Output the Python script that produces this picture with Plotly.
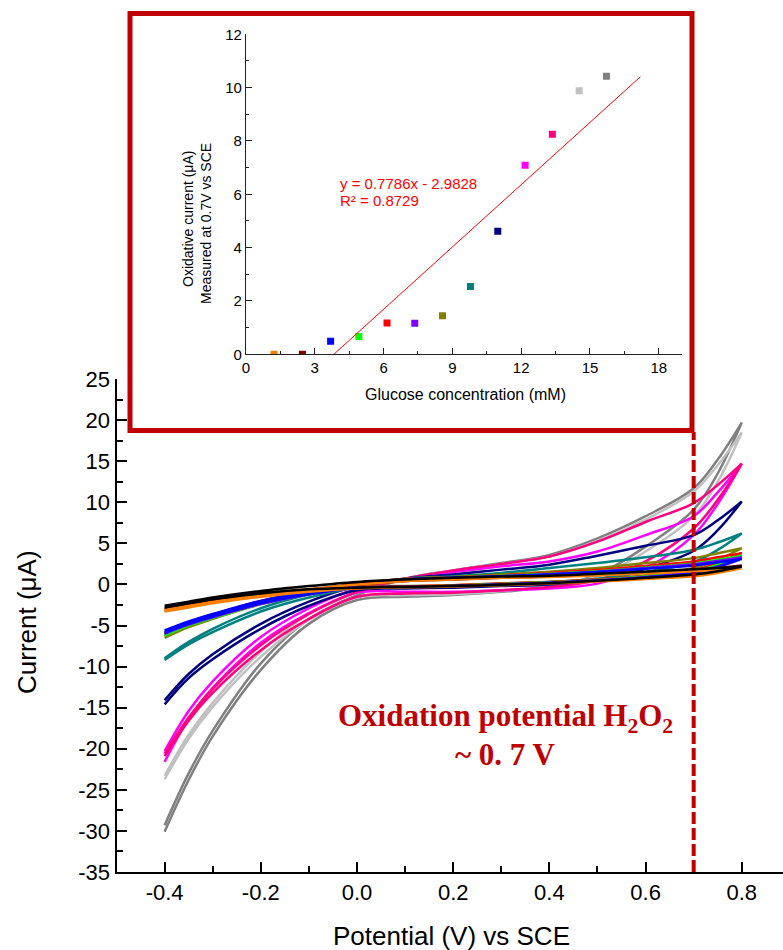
import plotly.graph_objects as go

# ---------------- Cyclic voltammograms (current in uA vs potential in V vs SCE) ----------------
potential = [-0.4, -0.35, -0.3, -0.2, -0.1, 0.0, 0.1, 0.2, 0.3, 0.4, 0.5, 0.6, 0.7, 0.75, 0.8]

# forward (anodic) sweep and reverse (cathodic) sweep, both listed from -0.4 V to 0.8 V
blank_fwd = [-2.6, -2.1, -1.6, -0.8, -0.2, 0.3, 0.6, 0.8, 0.95, 1.05, 1.3, 1.55, 1.85, 2.0, 2.17]
blank_rev = [-2.8, -2.3, -1.8, -1.1, -0.6, -0.4, -0.3, -0.2, -0.05, 0.15, 0.45, 0.8, 1.2, 1.6, 2.17]
orange_fwd = [-3.1, -2.6, -2.1, -1.3, -0.6, 0.0, 0.4, 0.6, 0.8, 0.9, 1.1, 1.35, 1.6, 1.8, 2.0]
orange_rev = [-3.3, -2.8, -2.3, -1.5, -0.9, -0.5, -0.35, -0.25, -0.1, 0.1, 0.35, 0.65, 1.0, 1.4, 2.0]
maroon_fwd = [-3.0, -2.5, -2.0, -1.2, -0.6, 0.0, 0.4, 0.6, 0.8, 0.95, 1.15, 1.45, 1.75, 2.0, 2.3]
maroon_rev = [-3.2, -2.7, -2.2, -1.4, -0.8, -0.45, -0.3, -0.2, -0.05, 0.15, 0.4, 0.75, 1.15, 1.6, 2.3]
blue_fwd = [-5.6, -4.5, -3.6, -2.0, -0.9, 0.0, 0.6, 0.8, 1.0, 1.2, 1.5, 1.9, 2.3, 2.7, 3.1]
blue_rev = [-5.9, -4.8, -3.9, -2.3, -1.2, -0.4, -0.3, -0.2, 0.0, 0.2, 0.45, 0.85, 1.4, 2.1, 3.1]
green_fwd = [-6.0, -4.8, -3.8, -2.1, -0.9, 0.0, 0.6, 0.8, 1.05, 1.3, 1.6, 2.05, 2.55, 3.0, 3.5]
green_rev = [-6.2, -5.0, -4.1, -2.4, -1.2, -0.4, -0.3, -0.15, 0.05, 0.25, 0.55, 1.0, 1.6, 2.4, 3.5]
red_fwd = [-5.9, -4.7, -3.7, -2.0, -0.8, 0.05, 0.65, 0.85, 1.1, 1.4, 1.75, 2.25, 2.8, 3.3, 3.8]
red_rev = [-6.1, -4.9, -4.0, -2.3, -1.1, -0.35, -0.25, -0.1, 0.1, 0.3, 0.6, 1.05, 1.7, 2.6, 3.8]
violet_fwd = [-5.8, -4.6, -3.7, -2.1, -0.9, 0.0, 0.6, 0.8, 1.0, 1.25, 1.55, 2.0, 2.45, 2.85, 3.3]
violet_rev = [-6.0, -4.9, -4.0, -2.4, -1.2, -0.4, -0.3, -0.2, 0.0, 0.2, 0.5, 0.9, 1.5, 2.2, 3.3]
olive_fwd = [-6.3, -5.0, -3.9, -2.1, -0.9, 0.1, 0.7, 0.9, 1.2, 1.55, 2.0, 2.6, 3.2, 3.8, 4.4]
olive_rev = [-6.5, -5.2, -4.2, -2.4, -1.2, -0.3, -0.2, -0.1, 0.1, 0.3, 0.6, 1.1, 2.0, 3.0, 4.4]
teal_fwd = [-9.0, -7.0, -5.4, -2.9, -1.2, 0.0, 0.7, 1.0, 1.4, 2.0, 2.6, 3.3, 4.2, 5.1, 6.2]
teal_rev = [-9.2, -7.3, -5.8, -3.3, -1.6, -0.4, -0.3, -0.15, 0.05, 0.3, 0.7, 1.5, 2.7, 4.2, 6.2]
navy_fwd = [-14.1, -10.9, -8.5, -4.8, -2.1, -0.2, 0.7, 1.2, 1.8, 2.4, 3.5, 4.7, 6.0, 7.8, 10.1]
navy_rev = [-14.6, -11.4, -9.1, -5.4, -2.6, -0.7, -0.5, -0.4, -0.2, 0.0, 0.6, 1.9, 4.1, 6.6, 10.1]
magenta_fwd = [-20.3, -15.4, -11.8, -6.4, -2.9, -0.5, 0.7, 1.5, 2.2, 2.8, 4.0, 6.0, 8.3, 11.2, 14.7]
magenta_rev = [-21.6, -16.4, -12.6, -7.1, -3.5, -1.0, -0.9, -0.9, -0.7, -0.5, 0.1, 2.0, 6.0, 9.8, 14.7]
pink_fwd = [-20.6, -16.2, -12.7, -7.4, -3.6, -0.9, 0.7, 1.7, 2.5, 3.4, 5.2, 7.6, 9.9, 12.1, 14.7]
pink_rev = [-20.9, -16.6, -13.2, -8.0, -4.2, -1.5, -1.1, -1.0, -0.7, -0.3, 0.5, 2.8, 6.8, 10.3, 14.7]
silver_fwd = [-23.3, -18.3, -14.4, -8.2, -3.6, -1.0, 0.7, 1.7, 2.5, 3.4, 5.3, 7.9, 11.3, 14.5, 18.5]
silver_rev = [-23.7, -18.8, -14.9, -8.8, -4.3, -1.6, -1.3, -1.2, -0.8, -0.2, 1.0, 4.0, 8.3, 12.5, 18.5]
gray_fwd = [-29.3, -23.0, -17.8, -9.6, -4.2, -1.3, 0.7, 1.7, 2.6, 3.6, 5.6, 8.3, 11.7, 15.2, 19.7]
gray_rev = [-30.1, -23.8, -18.5, -10.4, -4.8, -1.9, -1.5, -1.3, -0.9, -0.3, 1.2, 4.6, 9.1, 13.5, 19.7]

# main axis tick positions and their labels (plain hyphen minus signs)
potential_ticks = [-0.4, -0.2, 0.0, 0.2, 0.4, 0.6, 0.8]
potential_labels = ["-0.4", "-0.2", "0.0", "0.2", "0.4", "0.6", "0.8"]
current_ticks = [-35, -30, -25, -20, -15, -10, -5, 0, 5, 10, 15, 20, 25]
current_labels = ["-35", "-30", "-25", "-20", "-15", "-10", "-5", "0", "5", "10", "15", "20", "25"]

# ---------------- Calibration inset ----------------
glucose_mM = [1.22, 2.46, 3.69, 4.92, 6.15, 7.36, 8.57, 9.79, 10.98, 12.17, 13.36, 14.53, 15.72]
oxidative_uA = [0.0, 0.0, 0.49, 0.67, 1.17, 1.16, 1.45, 2.54, 4.61, 7.09, 8.25, 9.88, 10.43]
point_colors = ["#ff8000", "#800000", "#0000ff", "#00ff00", "#ff0000", "#8000ff", "#808000",
                "#008080", "#000080", "#ff00ff", "#ff0080", "#c0c0c0", "#808080"]
fit_slope = 0.7786
fit_intercept = -2.9828
fit_r2 = 0.8729
fit_x_end = 17.2

# ---------------- page geometry helpers (pixels -> paper) ----------------
W, H = 783, 950


def px(x):
    return x / W


def py(y):
    return 1 - y / H


DARK_RED = "#c00000"

fig = go.Figure()

cv_sets = [
    (gray_fwd, gray_rev, "#808080"),
    (silver_fwd, silver_rev, "#c0c0c0"),
    (magenta_fwd, magenta_rev, "#ff00ff"),
    (pink_fwd, pink_rev, "#ff0080"),
    (navy_fwd, navy_rev, "#000080"),
    (teal_fwd, teal_rev, "#008080"),
    (olive_fwd, olive_rev, "#808000"),
    (red_fwd, red_rev, "#ff0000"),
    (green_fwd, green_rev, "#00ff00"),
    (violet_fwd, violet_rev, "#8000ff"),
    (blue_fwd, blue_rev, "#0000ff"),
    (maroon_fwd, maroon_rev, "#800000"),
    (orange_fwd, orange_rev, "#ff8000"),
    (blank_fwd, blank_rev, "#000000"),
]
for fwd, rev, col in cv_sets:
    fig.add_trace(go.Scatter(
        x=potential + potential[::-1],
        y=fwd + rev[::-1],
        mode="lines",
        line=dict(color=col, width=2.5, shape="spline", smoothing=1.0),
        xaxis="x", yaxis="y", showlegend=False, hoverinfo="skip",
    ))

# calibration points
fig.add_trace(go.Scatter(
    x=glucose_mM, y=oxidative_uA, mode="markers",
    marker=dict(symbol="square", size=7, color=point_colors, line=dict(width=0)),
    xaxis="x2", yaxis="y2", showlegend=False, hoverinfo="skip",
))
# linear fit
fit_x0 = -fit_intercept / fit_slope
fig.add_trace(go.Scatter(
    x=[fit_x0, fit_x_end],
    y=[0.0, fit_slope * fit_x_end + fit_intercept],
    mode="lines", line=dict(color="#ff0000", width=1),
    xaxis="x2", yaxis="y2", showlegend=False, hoverinfo="skip",
))

main_font = dict(family="Arial, Liberation Sans, sans-serif", size=22, color="#000000")
inset_font = dict(family="Arial, Liberation Sans, sans-serif", size=15, color="#000000")

fig.update_layout(
    width=W, height=H,
    margin=dict(l=0, r=0, t=0, b=0),
    paper_bgcolor="white", plot_bgcolor="rgba(0,0,0,0)",
    xaxis=dict(
        domain=[px(116.5), 1.0], range=[-0.5, 0.8857],
        showgrid=False, zeroline=False,
        showline=True, linecolor="black", linewidth=2,
        ticks="inside", ticklen=10, tickwidth=2, tickcolor="black",
        tickmode="array", tickvals=potential_ticks, ticktext=potential_labels,
        tickfont=main_font,
        minor=dict(ticks="inside", ticklen=6, tickwidth=2, tickcolor="black", tick0=0, dtick=0.1),
        automargin=False,
    ),
    yaxis=dict(
        domain=[py(872), py(379)], range=[-35, 25],
        showgrid=False, zeroline=False,
        showline=True, linecolor="black", linewidth=2,
        ticks="inside", ticklen=10, tickwidth=2, tickcolor="black",
        tickmode="array", tickvals=current_ticks, ticktext=current_labels,
        tickfont=main_font,
        minor=dict(ticks="inside", ticklen=6, tickwidth=2, tickcolor="black", tick0=0, dtick=2.5),
        automargin=False,
    ),
    xaxis2=dict(
        domain=[px(246), px(681.7)], range=[0, 19], anchor="y2",
        showgrid=False, zeroline=False,
        showline=True, linecolor="#222222", linewidth=1.3,
        ticks="inside", ticklen=6, tickwidth=1.2, tickcolor="#222222",
        tick0=0, dtick=3, tickfont=inset_font,
        minor=dict(ticks="inside", ticklen=3, tickwidth=1.2, tickcolor="#222222", dtick=1.5),
        automargin=False,
    ),
    yaxis2=dict(
        domain=[py(354.3), py(34.3)], range=[0, 12], anchor="x2",
        showgrid=False, zeroline=False,
        showline=True, linecolor="#222222", linewidth=1.3,
        ticks="inside", ticklen=6, tickwidth=1.2, tickcolor="#222222",
        tick0=0, dtick=2, tickfont=inset_font,
        minor=dict(ticks="inside", ticklen=3, tickwidth=1.2, tickcolor="#222222", dtick=1),
        automargin=False,
    ),
)

# inset frame and the 0.7 V marker
fig.add_shape(type="rect", xref="paper", yref="paper",
              x0=px(130), x1=px(692), y0=py(430.5), y1=py(13.5),
              line=dict(color=DARK_RED, width=5), fillcolor="rgba(0,0,0,0)", layer="above")
fig.add_shape(type="line", xref="x", yref="paper",
              x0=0.7, x1=0.7, y0=py(872), y1=py(432),
              line=dict(color=DARK_RED, width=4, dash="12px,4px"), layer="above")

annotations = [
    # main axis titles
    dict(text="Potential (V) vs SCE", x=px(452), y=py(936), font=dict(main_font, size=26)),
    dict(text="Current (\u03bcA)", x=px(27), y=py(622), textangle=-90, font=dict(main_font, size=26)),
    # inset axis titles
    dict(text="Glucose concentration (mM)", x=px(465), y=py(395), font=dict(inset_font, size=16)),
    dict(text="Oxidative current (\u03bcA)", x=px(188), y=py(219), textangle=-90, font=dict(inset_font, size=14)),
    dict(text="Measured at 0.7V vs SCE", x=px(206), y=py(224), textangle=-90, font=dict(inset_font, size=14)),
    # fit equation
    dict(text=f"y = {fit_slope}x - {abs(fit_intercept)}", x=px(338), y=py(183), xanchor="left",
         font=dict(inset_font, size=15, color="#ff0000")),
    dict(text=f"R\u00b2 = {fit_r2}", x=px(338), y=py(200), xanchor="left",
         font=dict(inset_font, size=15, color="#ff0000")),
    # oxidation potential note
    dict(text="<b>Oxidation potential H<sub>2</sub>O<sub>2</sub></b>", x=px(505), y=py(718),
         font=dict(family="Liberation Serif, Times New Roman, serif", size=31, color=DARK_RED)),
    dict(text="<b>~ 0. 7 V</b>", x=px(505), y=py(754),
         font=dict(family="Liberation Serif, Times New Roman, serif", size=31, color=DARK_RED)),
]
for a in annotations:
    a.setdefault("xanchor", "center")
    a.update(xref="paper", yref="paper", yanchor="middle", showarrow=False)
    fig.add_annotation(**a)

fig.write_html("out.html")
